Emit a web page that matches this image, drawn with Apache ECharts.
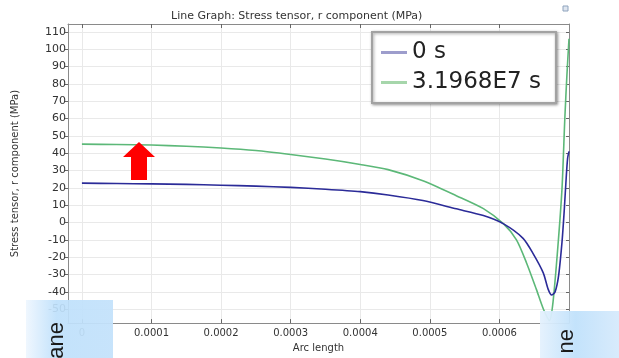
<!DOCTYPE html>
<html>
<head>
<meta charset="utf-8">
<script src="https://cdn.jsdelivr.net/npm/echarts@6/dist/echarts.min.js"></script>
<style>
  html, body { margin: 0; padding: 0; background: #fff; }
  #chart { width: 619px; height: 358px; }
</style>
</head>
<body>
<div id="chart"></div>
<script>
// Arc length positions and radial stress (MPa) for the two time steps
const arcLength0 = [0, 0.00005, 0.0001, 0.00015, 0.0002, 0.00025, 0.0003, 0.00035, 0.0004, 0.00044,
  0.00049, 0.000538, 0.000577, 0.000606, 0.000634, 0.000648, 0.000663, 0.00067,
  0.000675, 0.00068, 0.000685, 0.00069, 0.000693, 0.000696, 0.000698, 0.0007];
const stress0 = [22.7, 22.5, 22.3, 22.0, 21.5, 21.0, 20.3, 19.2, 17.8, 15.9,
  12.7, 7.9, 4.0, -0.8, -9.1, -17.6, -29, -38.4,
  -41.8, -40, -30.8, -11, 6, 26, 37, 41];

const arcLength1 = [0, 0.00005, 0.0001, 0.00015, 0.0002, 0.00025, 0.0003, 0.00035, 0.0004, 0.00044,
  0.00049, 0.000538, 0.000577, 0.000606, 0.0006245, 0.000639, 0.000653,
  0.000663, 0.000672, 0.000677, 0.000684, 0.00069, 0.000694, 0.000697, 0.0007];
const stress1 = [45.2, 45.0, 44.7, 44.0, 43.0, 41.5, 39.2, 36.6, 33.5, 30.5,
  24.1, 15.5, 8.0, -0.8, -10, -23.3, -38.4,
  -49.7, -56.5, -46, -14, 20, 60, 85, 106];

const seriesNames = ['0 s', '3.1968E7 s'];
const xTicks = [0, 0.0001, 0.0002, 0.0003, 0.0004, 0.0005, 0.0006];
const yTicks = [-50, -40, -30, -20, -10, 0, 10, 20, 30, 40, 50, 60, 70, 80, 90, 100, 110];

const pairs = (xs, ys) => xs.map((x, i) => [x, ys[i]]);
const fmtX = v => (v === 0 ? '0' : v.toFixed(4));

const chart = echarts.init(document.getElementById('chart'), null, { renderer: 'canvas' });

const frameLine = { show: true, onZero: false, lineStyle: { color: '#8a8a8a', width: 1 } };
const gridLine = { show: true, lineStyle: { color: '#e9e9e9', width: 1 } };

chart.setOption({
  animation: false,
  backgroundColor: '#ffffff',
  textStyle: { fontFamily: 'DejaVu Sans' },
  title: {
    text: 'Line Graph: Stress tensor, r component (MPa)',
    left: 166, top: 6,
    textStyle: { fontSize: 11, fontWeight: 'normal', color: '#333', fontFamily: 'DejaVu Sans' }
  },
  grid: { left: 68, right: 50, top: 24, bottom: 30, containLabel: false },
  legend: {
    orient: 'vertical',
    left: 372, top: 32,
    padding: [9, 15, 9, 9],
    itemGap: 7,
    itemWidth: 26, itemHeight: 3,
    icon: 'rect',
    backgroundColor: '#ffffff',
    borderColor: '#a2a2a2', borderWidth: 2,
    shadowBlur: 3, shadowColor: 'rgba(0,0,0,0.35)', shadowOffsetX: 1, shadowOffsetY: 1,
    textStyle: { fontSize: 23, color: '#222', fontFamily: 'DejaVu Sans' },
    data: [
      { name: seriesNames[0], icon: 'rect', itemStyle: { color: '#9d9dcc' }, lineStyle: { color: '#9d9dcc', width: 2.5 } },
      { name: seriesNames[1], icon: 'rect', itemStyle: { color: '#a6d6ab' }, lineStyle: { color: '#a6d6ab', width: 2.5 } }
    ]
  },
  xAxis: [
    {
      type: 'value', position: 'bottom',
      min: -0.00002, max: 0.0007,
      name: 'Arc length', nameLocation: 'middle', nameGap: 15,
      nameTextStyle: { fontSize: 10, color: '#333' },
      axisLine: frameLine,
      axisTick: { show: true, inside: true, length: 4, lineStyle: { color: '#666' }, customValues: xTicks },
      axisLabel: { fontSize: 10, color: '#333', margin: 5, customValues: xTicks, formatter: fmtX },
      splitLine: gridLine
    },
    {
      type: 'value', position: 'top',
      min: -0.00002, max: 0.0007,
      axisLine: frameLine,
      axisTick: { show: true, inside: true, length: 4, lineStyle: { color: '#666' }, customValues: xTicks },
      axisLabel: { show: false, customValues: xTicks },
      splitLine: { show: false }
    }
  ],
  yAxis: [
    {
      type: 'value', position: 'left',
      min: -58, max: 114.5,
      name: 'Stress tensor, r component (MPa)', nameLocation: 'middle', nameGap: 48, nameRotate: 90,
      nameTextStyle: { fontSize: 10, color: '#333' },
      axisLine: frameLine,
      axisTick: { show: true, inside: false, length: 3, lineStyle: { color: '#666' }, customValues: yTicks },
      axisLabel: { fontSize: 11, color: '#333', margin: 2, customValues: yTicks },
      splitLine: gridLine
    },
    {
      type: 'value', position: 'right',
      min: -58, max: 114.5,
      axisLine: frameLine,
      axisTick: { show: true, inside: true, length: 3, lineStyle: { color: '#666' }, customValues: yTicks },
      axisLabel: { show: false, customValues: yTicks },
      splitLine: { show: false }
    }
  ],
  series: [
    {
      name: seriesNames[0], type: 'line', xAxisIndex: 0, yAxisIndex: 0,
      data: pairs(arcLength0, stress0),
      showSymbol: false, symbol: 'none', smooth: 0.25,
      lineStyle: { color: '#2b2b98', width: 1.6 }, itemStyle: { color: '#2b2b98' },
      clip: true, z: 3
    },
    {
      name: seriesNames[1], type: 'line', xAxisIndex: 0, yAxisIndex: 0,
      data: pairs(arcLength1, stress1),
      showSymbol: false, symbol: 'none', smooth: 0.25,
      lineStyle: { color: '#5cb878', width: 1.6 }, itemStyle: { color: '#5cb878' },
      clip: true, z: 2
    }
  ],
  graphic: [
    // red arrow pointing up
    {
      type: 'polygon', z: 100,
      shape: { points: [[139, 142], [155, 157], [147, 157], [147, 180], [131, 180], [131, 157], [123, 157]] },
      style: { fill: '#ff0000' }
    },
    // small window icon top right
    {
      type: 'rect', z: 100,
      shape: { x: 563, y: 6, width: 5, height: 5 },
      style: { fill: '#dfe6f0', stroke: '#8ea3bd', lineWidth: 1 }
    },
    // bottom-left caption panel
    {
      type: 'rect', z: 100,
      shape: { x: 26, y: 300, width: 87, height: 58 },
      style: {
        fill: new echarts.graphic.LinearGradient(0, 0, 1, 0, [
          { offset: 0, color: 'rgba(238,246,254,0.92)' },
          { offset: 0.35, color: 'rgba(190,224,251,0.92)' },
          { offset: 1, color: 'rgba(196,226,251,0.95)' }
        ])
      }
    },
    {
      type: 'text', z: 101,
      x: 57, y: 322, rotation: Math.PI / 2,
      style: {
        text: 'rane', fontSize: 22, fontFamily: 'Liberation Sans', fill: '#1a1a1a',
        align: 'right', verticalAlign: 'middle'
      }
    },
    // bottom-right caption panel
    {
      type: 'rect', z: 100,
      shape: { x: 540, y: 311, width: 79, height: 47 },
      style: {
        fill: new echarts.graphic.LinearGradient(0, 0, 1, 0, [
          { offset: 0, color: 'rgba(228,241,253,0.95)' },
          { offset: 0.45, color: 'rgba(192,225,251,0.95)' },
          { offset: 1, color: 'rgba(214,234,252,0.95)' }
        ])
      }
    },
    {
      type: 'text', z: 101,
      x: 567, y: 329, rotation: Math.PI / 2,
      style: {
        text: 'ne', fontSize: 22, fontFamily: 'Liberation Sans', fill: '#1a1a1a',
        align: 'right', verticalAlign: 'middle'
      }
    }
  ]
});
</script>
</body>
</html>
